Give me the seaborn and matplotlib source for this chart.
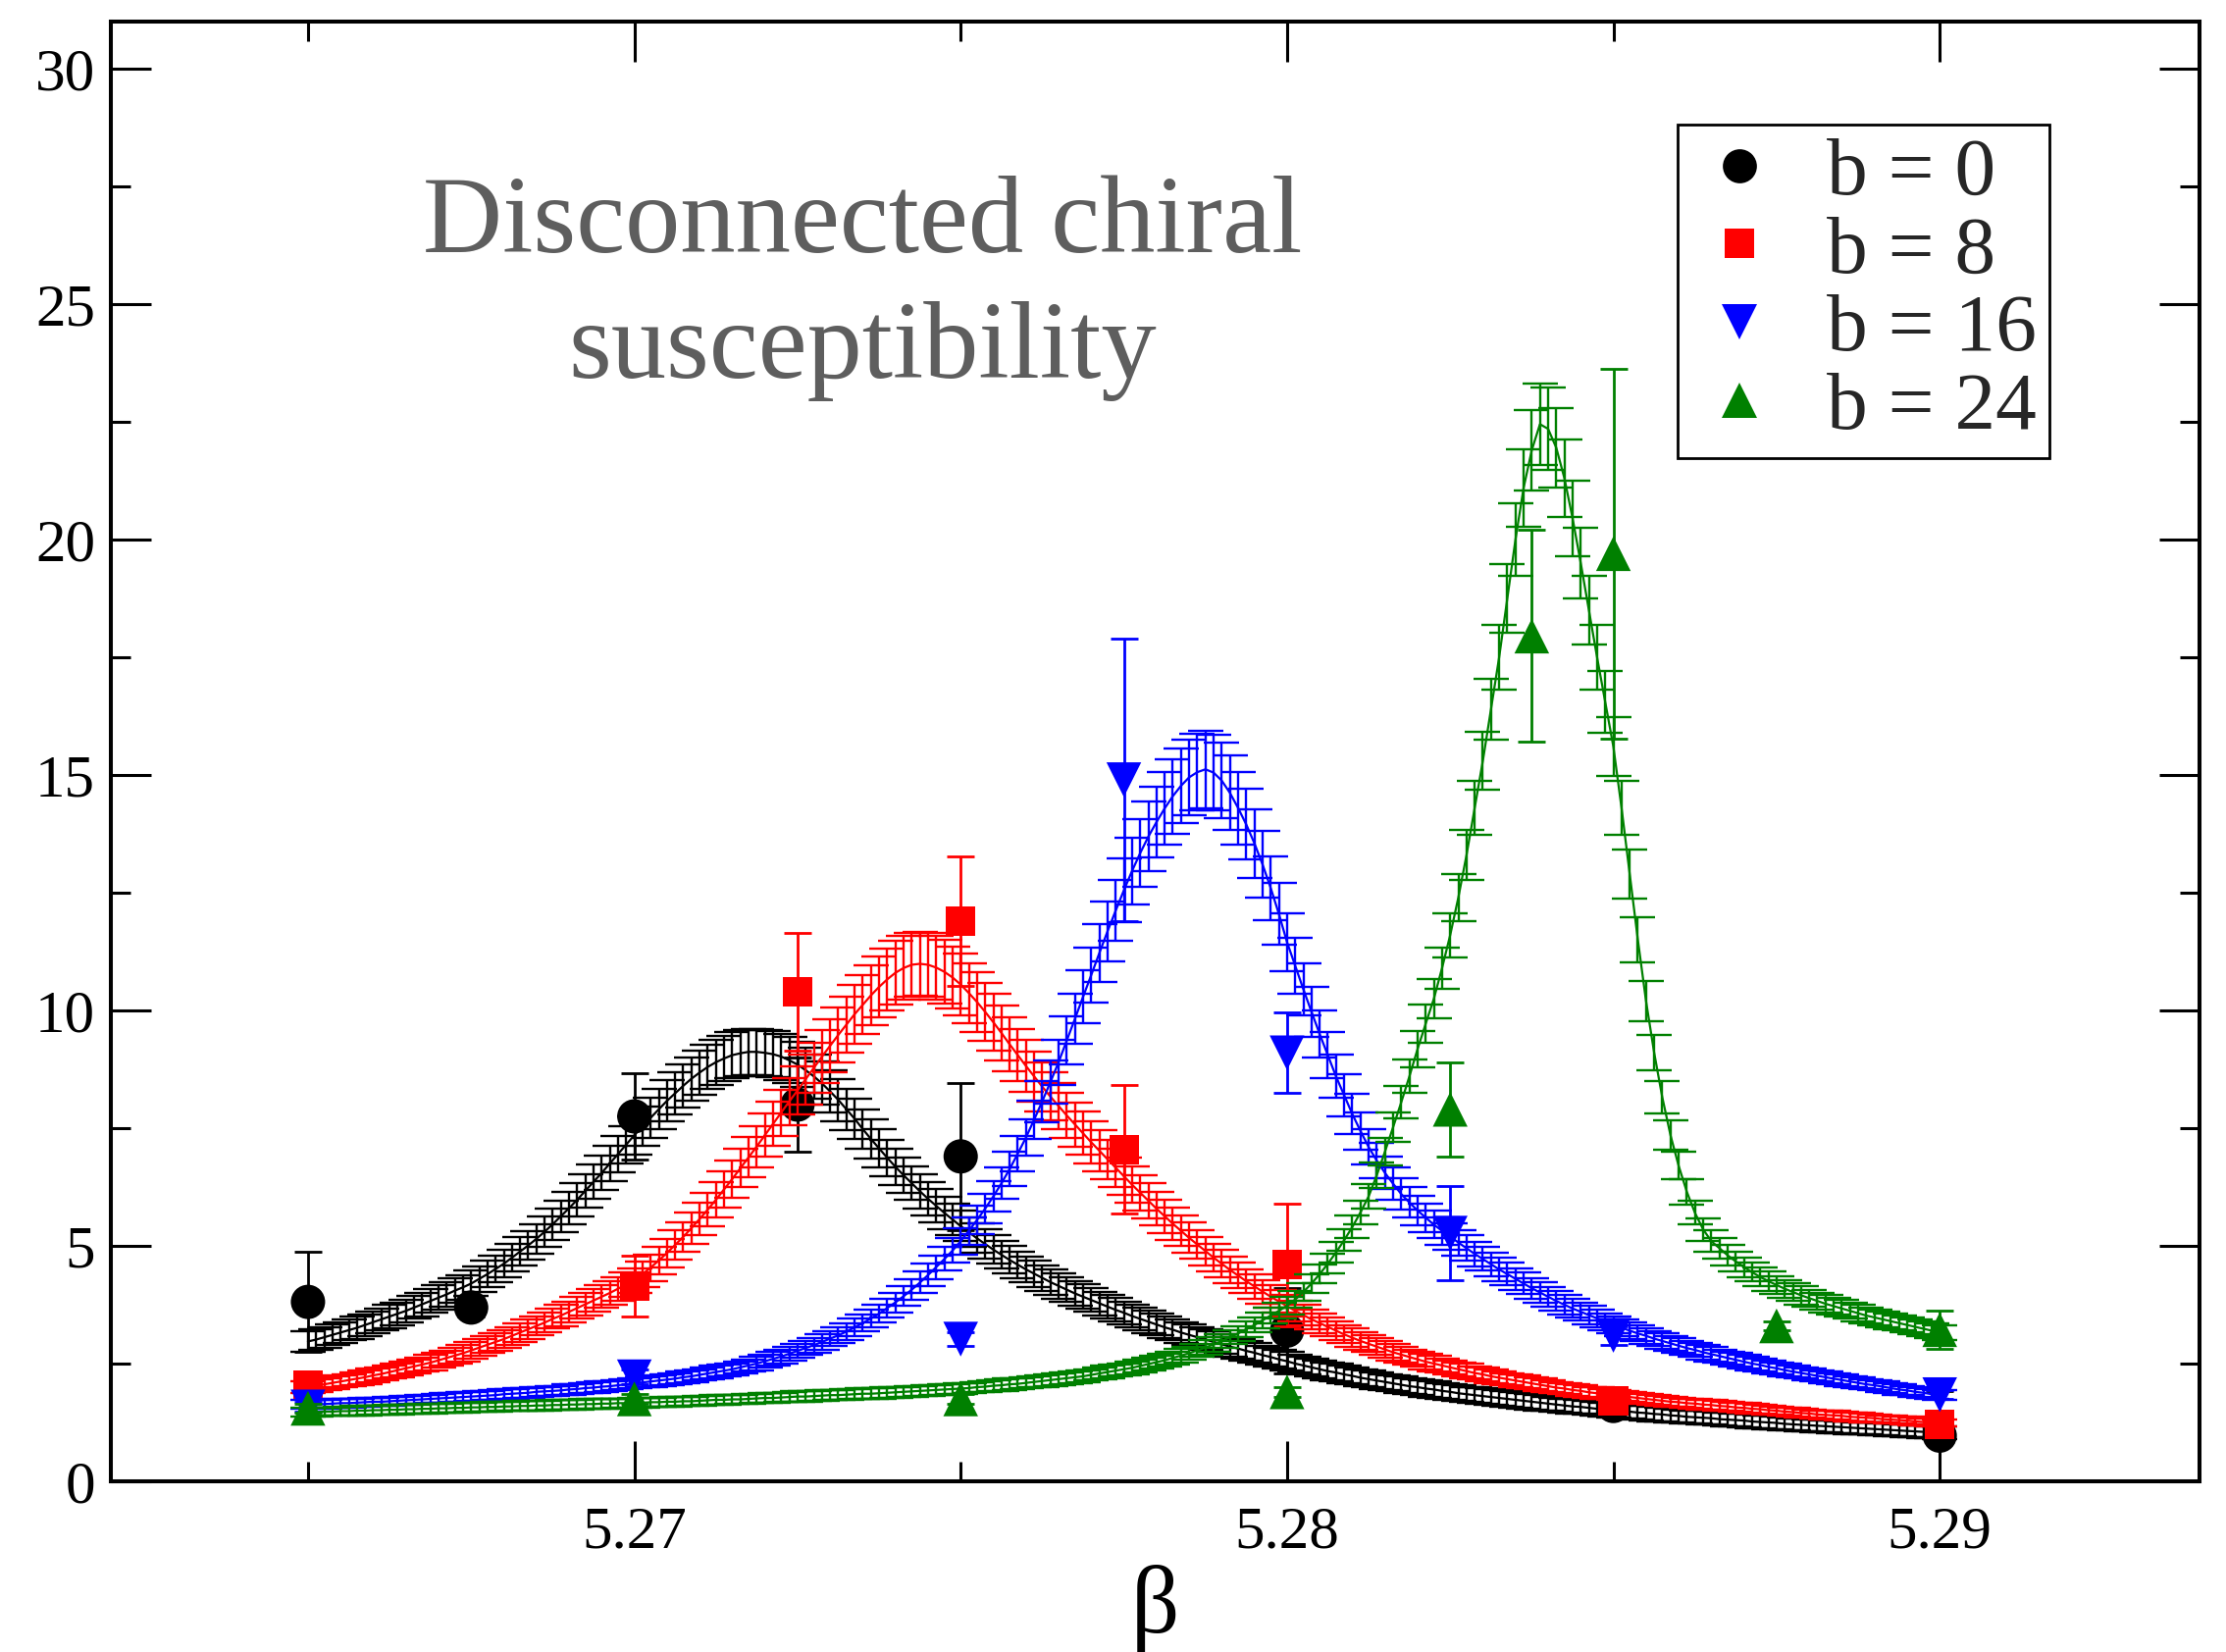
import matplotlib
matplotlib.use("Agg")
import matplotlib.pyplot as plt
from matplotlib.lines import Line2D
from matplotlib.ticker import MultipleLocator, FormatStrFormatter
import seaborn as sns

# ---- lattice data: disconnected chiral susceptibility vs beta ----
b0_beta = [5.265, 5.2675, 5.27, 5.2725, 5.275, 5.28, 5.285, 5.29]
b0_val = [3.81, 3.69, 7.75, 8.00, 6.90, 3.20, 1.60, 0.97]
b0_err = [1.07, 0.20, 0.92, 1.00, 1.56, 0.90, 0.15, 0.95]

b8_beta = [5.265, 5.27, 5.2725, 5.275, 5.2775, 5.28, 5.285, 5.29]
b8_val = [2.05, 4.15, 10.40, 11.90, 7.05, 4.60, 1.71, 1.21]
b8_err = [0.15, 0.65, 1.25, 1.38, 1.37, 1.30, 0.12, 0.10]

b16_beta = [5.265, 5.27, 5.275, 5.2775, 5.28, 5.2825, 5.285, 5.29]
b16_val = [1.58, 2.22, 3.02, 14.90, 9.10, 5.27, 3.10, 1.84]
b16_err = [0.10, 0.15, 0.15, 3.00, 0.85, 1.00, 0.20, 0.10]

b24_beta = [5.265, 5.27, 5.275, 5.28, 5.2825, 5.28375, 5.285, 5.2875, 5.29]
b24_val = [1.55, 1.75, 1.75, 1.90, 7.90, 17.95, 19.70, 3.30, 3.22]
b24_err = [0.10, 0.10, 0.10, 0.10, 1.00, 2.25, 3.93, 0.10, 0.40]

# ---- reweighted curves: central value and band half-width ----
fit_beta = [
    5.265000, 5.265125, 5.265250, 5.265375, 5.265500, 5.265625, 5.265750, 5.265875, 5.266000, 5.266125,
    5.266250, 5.266375, 5.266500, 5.266625, 5.266750, 5.266875, 5.267000, 5.267125, 5.267250, 5.267375,
    5.267500, 5.267625, 5.267750, 5.267875, 5.268000, 5.268125, 5.268250, 5.268375, 5.268500, 5.268625,
    5.268750, 5.268875, 5.269000, 5.269125, 5.269250, 5.269375, 5.269500, 5.269625, 5.269750, 5.269875,
    5.270000, 5.270125, 5.270250, 5.270375, 5.270500, 5.270625, 5.270750, 5.270875, 5.271000, 5.271125,
    5.271250, 5.271375, 5.271500, 5.271625, 5.271750, 5.271875, 5.272000, 5.272125, 5.272250, 5.272375,
    5.272500, 5.272625, 5.272750, 5.272875, 5.273000, 5.273125, 5.273250, 5.273375, 5.273500, 5.273625,
    5.273750, 5.273875, 5.274000, 5.274125, 5.274250, 5.274375, 5.274500, 5.274625, 5.274750, 5.274875,
    5.275000, 5.275125, 5.275250, 5.275375, 5.275500, 5.275625, 5.275750, 5.275875, 5.276000, 5.276125,
    5.276250, 5.276375, 5.276500, 5.276625, 5.276750, 5.276875, 5.277000, 5.277125, 5.277250, 5.277375,
    5.277500, 5.277625, 5.277750, 5.277875, 5.278000, 5.278125, 5.278250, 5.278375, 5.278500, 5.278625,
    5.278750, 5.278875, 5.279000, 5.279125, 5.279250, 5.279375, 5.279500, 5.279625, 5.279750, 5.279875,
    5.280000, 5.280125, 5.280250, 5.280375, 5.280500, 5.280625, 5.280750, 5.280875, 5.281000, 5.281125,
    5.281250, 5.281375, 5.281500, 5.281625, 5.281750, 5.281875, 5.282000, 5.282125, 5.282250, 5.282375,
    5.282500, 5.282625, 5.282750, 5.282875, 5.283000, 5.283125, 5.283250, 5.283375, 5.283500, 5.283625,
    5.283750, 5.283875, 5.284000, 5.284125, 5.284250, 5.284375, 5.284500, 5.284625, 5.284750, 5.284875,
    5.285000, 5.285125, 5.285250, 5.285375, 5.285500, 5.285625, 5.285750, 5.285875, 5.286000, 5.286125,
    5.286250, 5.286375, 5.286500, 5.286625, 5.286750, 5.286875, 5.287000, 5.287125, 5.287250, 5.287375,
    5.287500, 5.287625, 5.287750, 5.287875, 5.288000, 5.288125, 5.288250, 5.288375, 5.288500, 5.288625,
    5.288750, 5.288875, 5.289000, 5.289125, 5.289250, 5.289375, 5.289500, 5.289625, 5.289750, 5.289875,
    5.290000,
]

fit_b0 = [
    2.97, 3.01, 3.06, 3.11, 3.16, 3.21, 3.26, 3.32, 3.38, 3.44,
    3.50, 3.56, 3.62, 3.69, 3.76, 3.83, 3.90, 3.97, 4.05, 4.12,
    4.20, 4.30, 4.40, 4.51, 4.62, 4.75, 4.88, 5.01, 5.15, 5.30,
    5.46, 5.63, 5.80, 5.98, 6.17, 6.36, 6.55, 6.75, 6.95, 7.15,
    7.35, 7.54, 7.72, 7.90, 8.08, 8.24, 8.40, 8.55, 8.68, 8.80,
    8.90, 8.98, 9.05, 9.09, 9.12, 9.12, 9.10, 9.07, 9.02, 8.94,
    8.85, 8.73, 8.60, 8.45, 8.28, 8.10, 7.90, 7.70, 7.48, 7.27,
    7.07, 6.87, 6.68, 6.50, 6.33, 6.16, 6.00, 5.85, 5.70, 5.56,
    5.42, 5.29, 5.16, 5.04, 4.92, 4.81, 4.70, 4.60, 4.50, 4.41,
    4.32, 4.23, 4.15, 4.07, 3.99, 3.92, 3.85, 3.78, 3.71, 3.64,
    3.58, 3.51, 3.45, 3.39, 3.33, 3.27, 3.22, 3.16, 3.11, 3.06,
    3.01, 2.96, 2.91, 2.86, 2.82, 2.77, 2.73, 2.68, 2.64, 2.59,
    2.55, 2.50, 2.46, 2.42, 2.38, 2.34, 2.31, 2.27, 2.24, 2.20,
    2.17, 2.14, 2.11, 2.08, 2.05, 2.02, 2.00, 1.97, 1.95, 1.92,
    1.90, 1.87, 1.85, 1.83, 1.81, 1.79, 1.77, 1.75, 1.73, 1.71,
    1.69, 1.67, 1.65, 1.63, 1.61, 1.59, 1.58, 1.56, 1.54, 1.52,
    1.51, 1.49, 1.48, 1.46, 1.45, 1.43, 1.42, 1.40, 1.39, 1.37,
    1.36, 1.35, 1.34, 1.32, 1.31, 1.30, 1.29, 1.27, 1.26, 1.25,
    1.24, 1.22, 1.21, 1.20, 1.19, 1.18, 1.17, 1.16, 1.15, 1.14,
    1.13, 1.12, 1.11, 1.10, 1.09, 1.08, 1.07, 1.06, 1.05, 1.04,
    1.03,
]
fit_b0_err = [
    0.21, 0.21, 0.22, 0.22, 0.22, 0.22, 0.23, 0.23, 0.23, 0.23,
    0.24, 0.24, 0.24, 0.24, 0.25, 0.25, 0.26, 0.26, 0.26, 0.26,
    0.27, 0.27, 0.28, 0.28, 0.29, 0.29, 0.30, 0.30, 0.31, 0.32,
    0.33, 0.33, 0.34, 0.35, 0.36, 0.36, 0.37, 0.38, 0.39, 0.40,
    0.41, 0.42, 0.43, 0.43, 0.44, 0.45, 0.46, 0.46, 0.47, 0.47,
    0.48, 0.48, 0.49, 0.49, 0.49, 0.49, 0.49, 0.49, 0.49, 0.49,
    0.48, 0.48, 0.47, 0.46, 0.45, 0.45, 0.44, 0.43, 0.42, 0.41,
    0.40, 0.39, 0.38, 0.37, 0.36, 0.36, 0.35, 0.35, 0.34, 0.33,
    0.32, 0.32, 0.31, 0.31, 0.30, 0.29, 0.29, 0.28, 0.28, 0.28,
    0.27, 0.27, 0.27, 0.26, 0.26, 0.26, 0.25, 0.25, 0.25, 0.25,
    0.24, 0.24, 0.24, 0.24, 0.23, 0.23, 0.22, 0.22, 0.22, 0.22,
    0.22, 0.22, 0.21, 0.21, 0.21, 0.21, 0.20, 0.20, 0.20, 0.20,
    0.19, 0.19, 0.19, 0.19, 0.19, 0.19, 0.18, 0.18, 0.18, 0.18,
    0.18, 0.18, 0.17, 0.17, 0.17, 0.17, 0.17, 0.17, 0.17, 0.17,
    0.17, 0.17, 0.16, 0.16, 0.16, 0.16, 0.16, 0.16, 0.16, 0.16,
    0.16, 0.16, 0.15, 0.15, 0.15, 0.15, 0.15, 0.15, 0.15, 0.15,
    0.15, 0.15, 0.15, 0.15, 0.15, 0.15, 0.14, 0.14, 0.14, 0.14,
    0.14, 0.14, 0.14, 0.14, 0.14, 0.14, 0.14, 0.14, 0.14, 0.14,
    0.14, 0.14, 0.13, 0.13, 0.13, 0.13, 0.13, 0.13, 0.13, 0.13,
    0.13, 0.13, 0.13, 0.13, 0.13, 0.13, 0.13, 0.13, 0.13, 0.13,
    0.13,
]

fit_b8 = [
    2.00, 2.03, 2.06, 2.09, 2.12, 2.15, 2.18, 2.21, 2.25, 2.28,
    2.32, 2.36, 2.40, 2.44, 2.48, 2.52, 2.57, 2.62, 2.67, 2.72,
    2.78, 2.84, 2.90, 2.96, 3.02, 3.09, 3.16, 3.23, 3.30, 3.37,
    3.45, 3.52, 3.60, 3.68, 3.76, 3.84, 3.92, 4.00, 4.09, 4.18,
    4.27, 4.40, 4.54, 4.69, 4.85, 5.02, 5.19, 5.38, 5.57, 5.77,
    5.98, 6.20, 6.42, 6.65, 6.88, 7.11, 7.35, 7.59, 7.83, 8.07,
    8.30, 8.54, 8.78, 9.02, 9.25, 9.48, 9.70, 9.92, 10.12, 10.32,
    10.50, 10.66, 10.80, 10.90, 10.97, 10.99, 10.97, 10.91, 10.82, 10.70,
    10.55, 10.37, 10.18, 9.97, 9.75, 9.52, 9.28, 9.05, 8.82, 8.60,
    8.38, 8.17, 7.97, 7.77, 7.58, 7.39, 7.20, 7.02, 6.84, 6.66,
    6.48, 6.30, 6.13, 5.96, 5.79, 5.63, 5.47, 5.32, 5.17, 5.03,
    4.89, 4.75, 4.62, 4.49, 4.37, 4.25, 4.14, 4.03, 3.92, 3.82,
    3.72, 3.62, 3.53, 3.44, 3.36, 3.28, 3.20, 3.12, 3.05, 2.98,
    2.92, 2.86, 2.80, 2.74, 2.69, 2.64, 2.59, 2.54, 2.50, 2.46,
    2.42, 2.38, 2.34, 2.30, 2.27, 2.23, 2.20, 2.17, 2.14, 2.11,
    2.08, 2.05, 2.02, 1.99, 1.97, 1.94, 1.92, 1.89, 1.87, 1.85,
    1.83, 1.81, 1.79, 1.77, 1.75, 1.73, 1.71, 1.69, 1.68, 1.66,
    1.65, 1.63, 1.62, 1.60, 1.59, 1.57, 1.56, 1.54, 1.53, 1.51,
    1.50, 1.48, 1.47, 1.45, 1.44, 1.42, 1.41, 1.40, 1.39, 1.37,
    1.36, 1.35, 1.34, 1.32, 1.31, 1.30, 1.29, 1.27, 1.26, 1.25,
    1.24,
]
fit_b8_err = [
    0.12, 0.13, 0.13, 0.13, 0.13, 0.13, 0.14, 0.14, 0.14, 0.14,
    0.14, 0.15, 0.15, 0.15, 0.15, 0.16, 0.16, 0.16, 0.17, 0.17,
    0.17, 0.18, 0.18, 0.18, 0.19, 0.19, 0.20, 0.20, 0.20, 0.21,
    0.21, 0.22, 0.22, 0.23, 0.23, 0.24, 0.24, 0.25, 0.25, 0.26,
    0.26, 0.27, 0.28, 0.29, 0.30, 0.31, 0.32, 0.33, 0.35, 0.36,
    0.37, 0.38, 0.40, 0.41, 0.43, 0.44, 0.46, 0.47, 0.49, 0.50,
    0.51, 0.53, 0.54, 0.56, 0.57, 0.59, 0.60, 0.62, 0.63, 0.64,
    0.65, 0.66, 0.67, 0.68, 0.68, 0.68, 0.68, 0.68, 0.67, 0.66,
    0.65, 0.64, 0.63, 0.62, 0.60, 0.59, 0.58, 0.56, 0.55, 0.53,
    0.52, 0.51, 0.49, 0.48, 0.47, 0.46, 0.45, 0.44, 0.42, 0.41,
    0.40, 0.39, 0.38, 0.37, 0.36, 0.35, 0.34, 0.33, 0.32, 0.31,
    0.30, 0.29, 0.29, 0.28, 0.27, 0.26, 0.26, 0.25, 0.24, 0.24,
    0.23, 0.22, 0.22, 0.21, 0.21, 0.20, 0.20, 0.19, 0.19, 0.18,
    0.18, 0.18, 0.17, 0.17, 0.17, 0.16, 0.16, 0.16, 0.16, 0.15,
    0.15, 0.15, 0.15, 0.14, 0.14, 0.14, 0.14, 0.13, 0.13, 0.13,
    0.13, 0.13, 0.13, 0.12, 0.12, 0.12, 0.12, 0.12, 0.12, 0.11,
    0.11, 0.11, 0.11, 0.11, 0.11, 0.11, 0.11, 0.10, 0.10, 0.10,
    0.10, 0.10, 0.10, 0.10, 0.10, 0.10, 0.10, 0.10, 0.10, 0.10,
    0.09, 0.09, 0.09, 0.09, 0.09, 0.09, 0.09, 0.09, 0.09, 0.09,
    0.09, 0.09, 0.08, 0.08, 0.08, 0.08, 0.08, 0.08, 0.08, 0.08,
    0.08,
]

fit_b16 = [
    1.63, 1.63, 1.64, 1.65, 1.66, 1.66, 1.67, 1.68, 1.69, 1.69,
    1.70, 1.71, 1.72, 1.73, 1.74, 1.75, 1.76, 1.77, 1.78, 1.79,
    1.80, 1.81, 1.82, 1.83, 1.85, 1.86, 1.87, 1.88, 1.90, 1.91,
    1.92, 1.93, 1.95, 1.96, 1.98, 1.99, 2.01, 2.02, 2.04, 2.06,
    2.08, 2.10, 2.12, 2.14, 2.16, 2.18, 2.21, 2.23, 2.26, 2.29,
    2.32, 2.35, 2.38, 2.42, 2.46, 2.50, 2.55, 2.60, 2.65, 2.71,
    2.77, 2.83, 2.89, 2.96, 3.03, 3.10, 3.18, 3.27, 3.36, 3.46,
    3.56, 3.68, 3.80, 3.93, 4.07, 4.22, 4.38, 4.55, 4.72, 4.90,
    5.10, 5.32, 5.55, 5.79, 6.05, 6.33, 6.63, 6.96, 7.30, 7.68,
    8.07, 8.48, 8.90, 9.36, 9.82, 10.29, 10.75, 11.22, 11.68, 12.12,
    12.55, 12.96, 13.34, 13.69, 14.00, 14.29, 14.55, 14.77, 14.95, 15.06,
    15.12, 15.05, 14.88, 14.62, 14.30, 13.95, 13.55, 13.10, 12.60, 12.05,
    11.45, 10.95, 10.45, 9.97, 9.50, 9.05, 8.60, 8.20, 7.80, 7.44,
    7.10, 6.81, 6.55, 6.32, 6.10, 5.92, 5.75, 5.60, 5.45, 5.32,
    5.20, 5.07, 4.95, 4.83, 4.72, 4.61, 4.50, 4.40, 4.30, 4.20,
    4.10, 4.01, 3.92, 3.83, 3.75, 3.67, 3.60, 3.53, 3.46, 3.39,
    3.33, 3.26, 3.20, 3.14, 3.09, 3.03, 2.98, 2.93, 2.88, 2.83,
    2.79, 2.74, 2.70, 2.66, 2.62, 2.58, 2.54, 2.50, 2.47, 2.43,
    2.40, 2.36, 2.33, 2.30, 2.27, 2.24, 2.21, 2.18, 2.15, 2.12,
    2.09, 2.06, 2.04, 2.01, 1.98, 1.95, 1.93, 1.90, 1.88, 1.85,
    1.83,
]
fit_b16_err = [
    0.09, 0.09, 0.09, 0.09, 0.09, 0.09, 0.09, 0.09, 0.09, 0.09,
    0.09, 0.09, 0.09, 0.09, 0.09, 0.09, 0.10, 0.10, 0.10, 0.10,
    0.10, 0.10, 0.10, 0.10, 0.10, 0.10, 0.10, 0.10, 0.10, 0.10,
    0.10, 0.10, 0.11, 0.11, 0.11, 0.11, 0.11, 0.11, 0.11, 0.11,
    0.11, 0.11, 0.11, 0.12, 0.12, 0.12, 0.12, 0.12, 0.12, 0.12,
    0.13, 0.13, 0.13, 0.13, 0.13, 0.14, 0.14, 0.14, 0.14, 0.15,
    0.15, 0.15, 0.16, 0.16, 0.16, 0.17, 0.17, 0.18, 0.18, 0.19,
    0.19, 0.20, 0.21, 0.21, 0.22, 0.23, 0.24, 0.25, 0.25, 0.26,
    0.28, 0.29, 0.30, 0.31, 0.33, 0.34, 0.36, 0.38, 0.39, 0.41,
    0.44, 0.46, 0.48, 0.51, 0.53, 0.56, 0.58, 0.61, 0.63, 0.65,
    0.68, 0.70, 0.72, 0.74, 0.76, 0.77, 0.79, 0.80, 0.81, 0.81,
    0.82, 0.81, 0.80, 0.79, 0.77, 0.75, 0.73, 0.71, 0.68, 0.65,
    0.62, 0.59, 0.56, 0.54, 0.51, 0.49, 0.46, 0.44, 0.42, 0.40,
    0.38, 0.37, 0.35, 0.34, 0.33, 0.32, 0.31, 0.30, 0.29, 0.29,
    0.28, 0.27, 0.27, 0.26, 0.25, 0.25, 0.24, 0.24, 0.23, 0.23,
    0.22, 0.22, 0.21, 0.21, 0.20, 0.20, 0.19, 0.19, 0.19, 0.18,
    0.18, 0.18, 0.17, 0.17, 0.17, 0.16, 0.16, 0.16, 0.16, 0.15,
    0.15, 0.15, 0.15, 0.14, 0.14, 0.14, 0.14, 0.14, 0.13, 0.13,
    0.13, 0.13, 0.13, 0.12, 0.12, 0.12, 0.12, 0.12, 0.12, 0.11,
    0.11, 0.11, 0.11, 0.11, 0.11, 0.11, 0.10, 0.10, 0.10, 0.10,
    0.10,
]

fit_b24 = [
    1.47, 1.47, 1.48, 1.48, 1.49, 1.49, 1.50, 1.50, 1.51, 1.51,
    1.52, 1.52, 1.53, 1.53, 1.54, 1.54, 1.55, 1.55, 1.56, 1.56,
    1.57, 1.57, 1.58, 1.58, 1.59, 1.59, 1.60, 1.60, 1.61, 1.61,
    1.62, 1.62, 1.63, 1.63, 1.64, 1.64, 1.65, 1.65, 1.66, 1.66,
    1.67, 1.67, 1.68, 1.68, 1.69, 1.69, 1.70, 1.70, 1.71, 1.72,
    1.73, 1.73, 1.74, 1.74, 1.75, 1.76, 1.77, 1.77, 1.78, 1.79,
    1.80, 1.80, 1.81, 1.82, 1.83, 1.83, 1.84, 1.85, 1.86, 1.86,
    1.87, 1.88, 1.89, 1.90, 1.91, 1.92, 1.93, 1.94, 1.95, 1.96,
    1.97, 1.98, 2.00, 2.01, 2.03, 2.04, 2.06, 2.07, 2.09, 2.11,
    2.13, 2.15, 2.17, 2.19, 2.21, 2.23, 2.26, 2.29, 2.32, 2.35,
    2.38, 2.41, 2.45, 2.49, 2.53, 2.57, 2.62, 2.67, 2.72, 2.78,
    2.84, 2.91, 2.98, 3.06, 3.14, 3.23, 3.32, 3.42, 3.52, 3.62,
    3.73, 3.86, 4.02, 4.20, 4.40, 4.62, 4.86, 5.12, 5.40, 5.71,
    6.05, 6.50, 7.00, 7.52, 8.05, 8.60, 9.18, 9.72, 10.25, 10.90,
    11.60, 12.40, 13.30, 14.30, 15.30, 16.40, 17.50, 18.75, 20.00, 21.10,
    21.90, 22.45, 22.35, 21.95, 21.30, 20.45, 19.50, 18.50, 17.50, 16.55,
    15.60, 14.30, 12.90, 11.50, 10.20, 9.10, 8.15, 7.35, 6.70, 6.15,
    5.70, 5.35, 5.10, 4.95, 4.80, 4.67, 4.55, 4.44, 4.34, 4.25,
    4.17, 4.09, 4.02, 3.95, 3.89, 3.83, 3.77, 3.72, 3.67, 3.62,
    3.57, 3.52, 3.48, 3.44, 3.40, 3.36, 3.32, 3.28, 3.24, 3.20,
    3.16,
]
fit_b24_err = [
    0.09, 0.09, 0.09, 0.09, 0.09, 0.10, 0.10, 0.10, 0.10, 0.10,
    0.10, 0.10, 0.10, 0.10, 0.10, 0.10, 0.10, 0.10, 0.10, 0.10,
    0.10, 0.10, 0.10, 0.10, 0.10, 0.10, 0.10, 0.10, 0.10, 0.10,
    0.10, 0.10, 0.10, 0.10, 0.10, 0.10, 0.10, 0.10, 0.10, 0.10,
    0.10, 0.10, 0.10, 0.10, 0.10, 0.10, 0.10, 0.10, 0.10, 0.10,
    0.10, 0.10, 0.10, 0.10, 0.10, 0.10, 0.10, 0.10, 0.10, 0.10,
    0.11, 0.11, 0.11, 0.11, 0.11, 0.11, 0.11, 0.11, 0.11, 0.11,
    0.11, 0.11, 0.11, 0.11, 0.11, 0.11, 0.11, 0.11, 0.11, 0.11,
    0.11, 0.11, 0.11, 0.11, 0.12, 0.12, 0.12, 0.12, 0.12, 0.12,
    0.12, 0.12, 0.12, 0.12, 0.12, 0.12, 0.12, 0.13, 0.13, 0.13,
    0.13, 0.13, 0.13, 0.13, 0.13, 0.14, 0.14, 0.14, 0.14, 0.14,
    0.15, 0.15, 0.15, 0.15, 0.16, 0.16, 0.16, 0.17, 0.17, 0.17,
    0.18, 0.18, 0.19, 0.20, 0.20, 0.21, 0.22, 0.23, 0.24, 0.25,
    0.26, 0.28, 0.30, 0.32, 0.34, 0.36, 0.38, 0.40, 0.42, 0.44,
    0.47, 0.50, 0.53, 0.57, 0.61, 0.65, 0.69, 0.73, 0.78, 0.82,
    0.85, 0.87, 0.87, 0.85, 0.83, 0.80, 0.76, 0.72, 0.69, 0.65,
    0.62, 0.57, 0.52, 0.47, 0.42, 0.38, 0.34, 0.31, 0.29, 0.27,
    0.25, 0.24, 0.23, 0.22, 0.22, 0.21, 0.21, 0.20, 0.20, 0.20,
    0.19, 0.19, 0.19, 0.19, 0.18, 0.18, 0.18, 0.18, 0.18, 0.17,
    0.17, 0.17, 0.17, 0.17, 0.17, 0.16, 0.16, 0.16, 0.16, 0.16,
    0.16,
]

labels = ["b = 0", "b = 8", "b = 16", "b = 24"]
colors = ["#000000", "#ff0000", "#0000ff", "#008000"]
markers = ["o", "s", "v", "^"]

# ---- figure ----
sns.set_theme(style="ticks")
plt.rcParams["font.family"] = ["Liberation Serif", "DejaVu Serif"]

W, H = 2269, 1684
fig = plt.figure(figsize=(W / 100, H / 100), dpi=100)
L, R, T, B = 113, 2242, 22, 1510
ax = fig.add_axes([L / W, 1 - B / H, (R - L) / W, (B - T) / H])

series = [
    (b0_beta, b0_val, b0_err, fit_b0, fit_b0_err, 635),
    (b8_beta, b8_val, b8_err, fit_b8, fit_b8_err, 470),
    (b16_beta, b16_val, b16_err, fit_b16, fit_b16_err, 650),
    (b24_beta, b24_val, b24_err, fit_b24, fit_b24_err, 650),
]

for k, (pb, pv, pe, fv, fe, size) in enumerate(series):
    color, marker = colors[k], markers[k]
    z = 2 + 4 * k
    # band of the reweighted curve drawn as a dense ladder of error bars
    ax.errorbar(fit_beta, fv, yerr=fe, fmt="none", ecolor=color,
                elinewidth=1.7, capsize=13, capthick=1.7, zorder=z)
    sns.lineplot(x=fit_beta, y=fv, ax=ax, color=color, linewidth=1.6,
                 estimator=None, sort=False, zorder=z + 1)
    # simulation points
    ax.errorbar(pb, pv, yerr=pe, fmt="none", ecolor=color,
                elinewidth=2.0, capsize=10, capthick=2.0, zorder=z + 2)
    sns.scatterplot(x=pb, y=pv, ax=ax, marker=marker, s=size, color=color,
                    edgecolor="none", linewidth=0, zorder=z + 3)

ax.set_xlim(5.26198, 5.29398)
ax.set_ylim(0, 31)

ax.xaxis.set_major_locator(MultipleLocator(0.01))
ax.xaxis.set_minor_locator(MultipleLocator(0.005))
ax.yaxis.set_major_locator(MultipleLocator(5))
ax.yaxis.set_minor_locator(MultipleLocator(2.5))
ax.xaxis.set_major_formatter(FormatStrFormatter("%.2f"))
ax.yaxis.set_major_formatter(FormatStrFormatter("%d"))

ax.tick_params(which="both", direction="in", top=True, right=True,
               width=2.2, color="black", labelcolor="black")
ax.tick_params(which="major", length=29.5)
ax.tick_params(which="minor", length=14.4)
ax.tick_params(axis="x", which="major", labelsize=44, pad=18)
ax.tick_params(axis="y", which="major", labelsize=44, pad=11.5)
for sp in ax.spines.values():
    sp.set_linewidth(2.9)
    sp.set_color("black")

ax.set_xlabel("β", fontsize=70, labelpad=3, color="black")
ax.set_ylabel("")

handle_sizes = [25, 22, 26, 26]
handles = [Line2D([], [], ls="none", marker=markers[k], markersize=handle_sizes[k],
                  color=colors[k], markeredgewidth=0) for k in range(4)]
leg = ax.legend(handles=handles, labels=labels, loc="upper left",
                bbox_to_anchor=(1710 / W, 1 - 127 / H), bbox_transform=fig.transFigure,
                fontsize=60, frameon=True, fancybox=False, framealpha=1,
                edgecolor="black", borderpad=0.15, borderaxespad=0,
                handlelength=1.22, handletextpad=0.46, labelspacing=0.04)
leg.get_frame().set_linewidth(2.0)

fig.text(879 / W, 1 - 257 / H, "Disconnected chiral", ha="center", va="baseline",
         fontsize=81, color="#5e5e5e")
fig.text(879 / W, 1 - 385 / H, "susceptibility", ha="center", va="baseline",
         fontsize=81, color="#5e5e5e")

fig.savefig("out.png", dpi=100, facecolor="white")
